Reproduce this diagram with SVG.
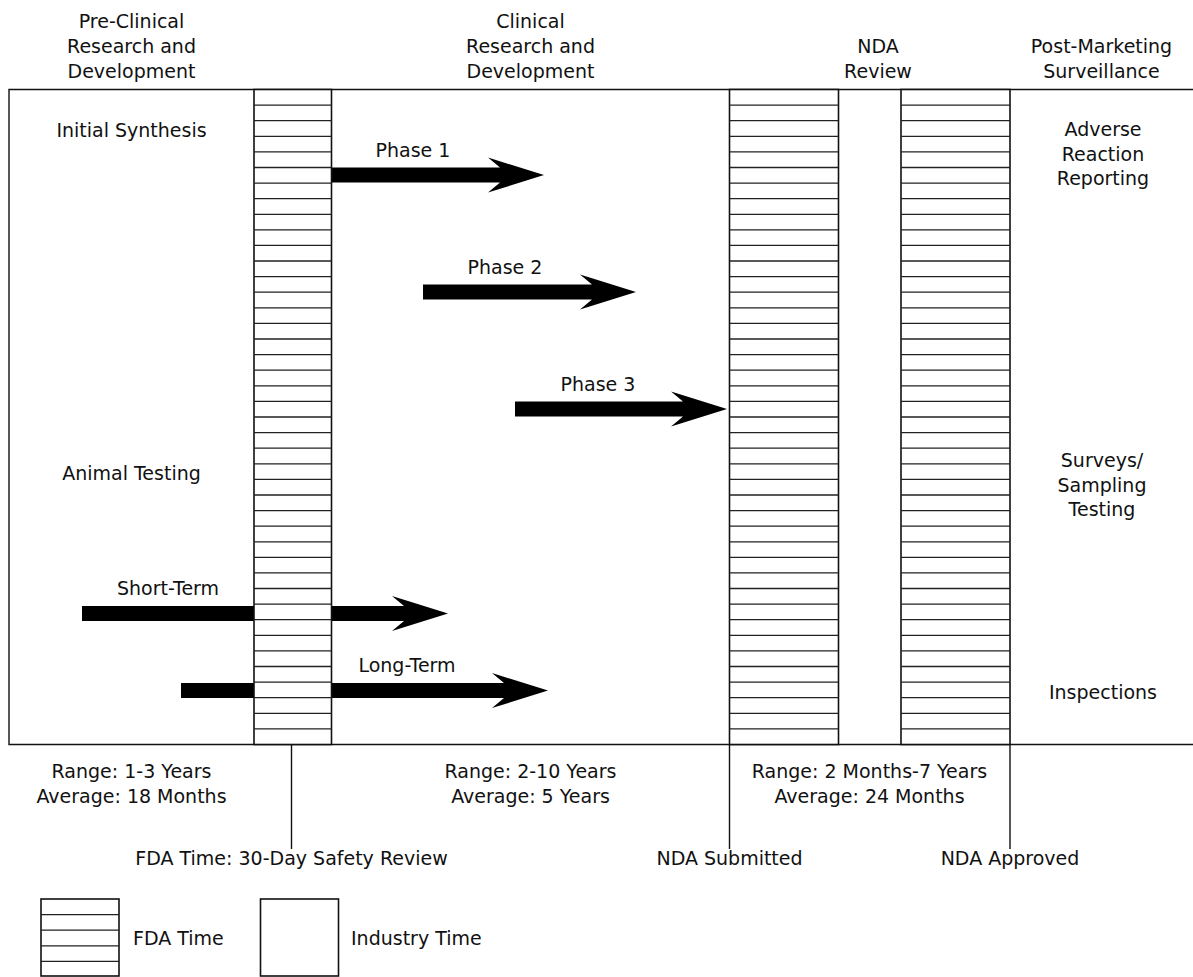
<svg xmlns="http://www.w3.org/2000/svg" width="1193" height="977" viewBox="0 0 1193 977">
<style>
text{font-family:"DejaVu Sans","Liberation Sans",sans-serif;font-size:19px;fill:#111;text-anchor:middle}
.l{text-anchor:start}
.frame{fill:none;stroke:#111;stroke-width:1.4}
.col{fill:#fff;stroke:#111;stroke-width:1.6}
.rows{fill:none;stroke:#222;stroke-width:1.3}
.arr{fill:#000}
</style>
<rect width="1193" height="977" fill="#fff"/>
<g id="frame">
<path class="frame" d="M1193 89.5H9V744.5H1193"/>
<path class="frame" d="M291.5 744.5V849M729.5 744.5V849M1010 744.5V849"/>
</g>
<g id="connectors">
<path class="arr" d="M331 167.5H500L488 157.5L544 175L488 192.5L500 182.5H331Z"/>
<path class="arr" d="M423 284.5H592L580 274.5L636 292L580 309.5L592 299.5H423Z"/>
<path class="arr" d="M515 401.5H683L671 391.5L727 409L671 426.5L683 416.5H515Z"/>
<path class="arr" d="M82 606H254V621H82Z"/>
<path class="arr" d="M332 606H404L392 596L448 613.5L392 631L404 621H332Z"/>
<path class="arr" d="M181 683H254V698H181Z"/>
<path class="arr" d="M332 683H504L492 673L548 690.5L492 708L504 698H332Z"/>
</g>
<g id="fda-review-column">
<rect class="col" x="254" y="89.5" width="77.5" height="655"/>
<path class="rows" d="M254 105.1h77.5M254 120.7h77.5M254 136.3h77.5M254 151.9h77.5M254 167.5h77.5M254 183.1h77.5M254 198.7h77.5M254 214.3h77.5M254 229.9h77.5M254 245.4h77.5M254 261h77.5M254 276.6h77.5M254 292.2h77.5M254 307.8h77.5M254 323.4h77.5M254 339h77.5M254 354.6h77.5M254 370.2h77.5M254 385.8h77.5M254 401.4h77.5M254 417h77.5M254 432.6h77.5M254 448.2h77.5M254 463.8h77.5M254 479.4h77.5M254 495h77.5M254 510.6h77.5M254 526.2h77.5M254 541.8h77.5M254 557.4h77.5M254 572.9h77.5M254 588.5h77.5M254 604.1h77.5M254 619.7h77.5M254 635.3h77.5M254 650.9h77.5M254 666.5h77.5M254 682.1h77.5M254 697.7h77.5M254 713.3h77.5M254 728.9h77.5"/>
</g>
<g id="nda-column-1">
<rect class="col" x="729.5" y="89.5" width="109" height="655"/>
<path class="rows" d="M729.5 105.1h109M729.5 120.7h109M729.5 136.3h109M729.5 151.9h109M729.5 167.5h109M729.5 183.1h109M729.5 198.7h109M729.5 214.3h109M729.5 229.9h109M729.5 245.4h109M729.5 261h109M729.5 276.6h109M729.5 292.2h109M729.5 307.8h109M729.5 323.4h109M729.5 339h109M729.5 354.6h109M729.5 370.2h109M729.5 385.8h109M729.5 401.4h109M729.5 417h109M729.5 432.6h109M729.5 448.2h109M729.5 463.8h109M729.5 479.4h109M729.5 495h109M729.5 510.6h109M729.5 526.2h109M729.5 541.8h109M729.5 557.4h109M729.5 572.9h109M729.5 588.5h109M729.5 604.1h109M729.5 619.7h109M729.5 635.3h109M729.5 650.9h109M729.5 666.5h109M729.5 682.1h109M729.5 697.7h109M729.5 713.3h109M729.5 728.9h109"/>
</g>
<g id="nda-column-2">
<rect class="col" x="901" y="89.5" width="109" height="655"/>
<path class="rows" d="M901 105.1h109M901 120.7h109M901 136.3h109M901 151.9h109M901 167.5h109M901 183.1h109M901 198.7h109M901 214.3h109M901 229.9h109M901 245.4h109M901 261h109M901 276.6h109M901 292.2h109M901 307.8h109M901 323.4h109M901 339h109M901 354.6h109M901 370.2h109M901 385.8h109M901 401.4h109M901 417h109M901 432.6h109M901 448.2h109M901 463.8h109M901 479.4h109M901 495h109M901 510.6h109M901 526.2h109M901 541.8h109M901 557.4h109M901 572.9h109M901 588.5h109M901 604.1h109M901 619.7h109M901 635.3h109M901 650.9h109M901 666.5h109M901 682.1h109M901 697.7h109M901 713.3h109M901 728.9h109"/>
</g>
<g id="headers">
<text x="131.5" y="28">Pre-Clinical</text>
<text x="131.5" y="53">Research and</text>
<text x="131.5" y="78">Development</text>
<text x="530.5" y="28">Clinical</text>
<text x="530.5" y="53">Research and</text>
<text x="530.5" y="78">Development</text>
<text x="878" y="53">NDA</text>
<text x="878" y="78">Review</text>
<text x="1101.5" y="53">Post-Marketing</text>
<text x="1101.5" y="78">Surveillance</text>
</g>
<g id="labels">
<text x="131.5" y="137">Initial Synthesis</text>
<text x="131.5" y="480">Animal Testing</text>
<text x="1103" y="136">Adverse</text>
<text x="1103" y="161">Reaction</text>
<text x="1103" y="185">Reporting</text>
<text x="1102" y="467">Surveys/</text>
<text x="1102" y="492">Sampling</text>
<text x="1102" y="516">Testing</text>
<text x="1103" y="699">Inspections</text>
<text x="413" y="157">Phase 1</text>
<text x="505" y="274">Phase 2</text>
<text x="598" y="391">Phase 3</text>
<text x="168" y="595">Short-Term</text>
<text x="407" y="672">Long-Term</text>
</g>
<g id="ranges">
<text x="131.5" y="778">Range: 1-3 Years</text>
<text x="131.5" y="803">Average: 18 Months</text>
<text x="530.5" y="778">Range: 2-10 Years</text>
<text x="530.5" y="803">Average: 5 Years</text>
<text x="869.5" y="778">Range: 2 Months-7 Years</text>
<text x="869.5" y="803">Average: 24 Months</text>
<text x="291.5" y="865">FDA Time: 30-Day Safety Review</text>
<text x="729.5" y="865">NDA Submitted</text>
<text x="1010" y="865">NDA Approved</text>
</g>
<g id="legend-fda">
<rect class="col" x="41" y="899" width="78" height="77"/>
<path class="rows" d="M41 914.6h78M41 930.2h78M41 945.8h78M41 961.4h78"/>
<text class="l" x="133" y="945">FDA Time</text>
</g>
<g id="legend-industry">
<rect class="col" x="260.5" y="899" width="78" height="77"/>
<text class="l" x="351" y="945">Industry Time</text>
</g>
</svg>
